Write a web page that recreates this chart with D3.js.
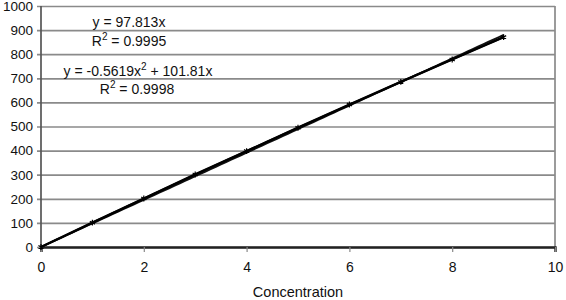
<!DOCTYPE html>
<html>
<head>
<meta charset="utf-8">
<script src="https://cdn.jsdelivr.net/npm/d3@7"></script>
<style>
  body { margin: 0; background: #fff; }
  text { font-family: "Liberation Sans", Arial, sans-serif; fill: #111; }
</style>
</head>
<body>
<div id="chart"></div>
<script>
// data
const concentration = [0, 1, 2, 3, 4, 5, 6, 7, 8, 9]
const signal        = [0, 101, 201, 301, 398, 495, 591, 685, 778, 871]
const xTicks        = [0, 2, 4, 6, 8, 10]
const yTicks        = [0, 100, 200, 300, 400, 500, 600, 700, 800, 900, 1000]
// trendline coefficients as printed on the chart  [a2, a1]
const linearFit     = [0, 97.813]
const polyFit       = [-0.5619, 101.81]
const xTitle        = 'Concentration'

const W = 566, H = 300,
      m = { top: 6, right: 11, bottom: 53, left: 41 },
      w = W - m.left - m.right,
      h = H - m.top - m.bottom

let svg = d3.select('#chart').append('svg')
  .attr('width', W).attr('height', H)

let g = svg.append('g').attr('transform', `translate(${m.left},${m.top})`)

let x = d3.scaleLinear().domain([0, 10]).range([0, w]),
    y = d3.scaleLinear().domain([0, 1000]).range([h, 0])

// gridlines + left ticks
g.append('g')
  .call(d3.axisLeft(y).tickValues(yTicks).tickSize(-w).tickPadding(8).tickFormat(d3.format('d')))
  .call(a => a.select('.domain').remove())
  .call(a => a.selectAll('.tick line')
    .attr('x1', -4).attr('stroke', '#8a8a8a').attr('stroke-width', 1.7))
  .call(a => a.selectAll('.tick text').style('font-size', '13.5px'))

// right border
g.append('line')
  .attr('x1', w).attr('x2', w).attr('y1', 0).attr('y2', h)
  .attr('stroke', '#8a8a8a').attr('stroke-width', 1.7)

// left axis line
g.append('line')
  .attr('x1', 0).attr('x2', 0).attr('y1', 0).attr('y2', h)
  .attr('stroke', '#555').attr('stroke-width', 1.7)

// x axis
g.append('g')
  .attr('transform', `translate(0,${h})`)
  .call(d3.axisBottom(x).tickValues(xTicks).tickSize(5).tickPadding(10))
  .call(a => a.select('.domain').attr('stroke', '#222').attr('stroke-width', 2.4))
  .call(a => a.selectAll('.tick line').attr('stroke', '#888').attr('stroke-width', 1.2))
  .call(a => a.selectAll('.tick text').style('font-size', '14px'))

svg.append('text')
  .attr('x', m.left + w / 2).attr('y', 297)
  .attr('text-anchor', 'middle')
  .style('font-size', '14.5px')
  .text(xTitle)

// trendlines
const fitLine = (c) => d3.line()
  .x(d => x(d)).y(d => y(c[0] * d * d + c[1] * d))

let xs = d3.range(0, 9.001, 0.1)
;[linearFit, polyFit].forEach(c => {
  g.append('path')
    .attr('d', fitLine(c)(xs))
    .attr('fill', 'none').attr('stroke', '#111').attr('stroke-width', 1.8)
})

// data series
g.append('path')
  .datum(concentration.map((c, i) => [c, signal[i]]))
  .attr('d', d3.line().x(d => x(d[0])).y(d => y(d[1])))
  .attr('fill', 'none').attr('stroke', '#000').attr('stroke-width', 2.4)

g.selectAll('.pt')
  .data(concentration.map((c, i) => [c, signal[i]]))
  .enter().append('path')
  .attr('class', 'pt')
  .attr('transform', d => `translate(${x(d[0])},${y(d[1])})`)
  .attr('d', d3.symbol(d3.symbolAsterisk, 24))
  .attr('fill', 'none').attr('stroke', '#000').attr('stroke-width', 1.2)

// equation labels
const label = (cx, cy, parts) => {
  let t = svg.append('text')
    .attr('x', cx).attr('y', cy)
    .attr('text-anchor', 'middle')
    .style('font-size', '14px')
  parts.forEach(p => {
    if (p.sup) t.append('tspan').attr('dy', -6).style('font-size', '10px').text(p.s)
    else t.append('tspan').attr('dy', p.after ? 6 : 0).text(p.s)
  })
}

label(129, 27, [{ s: 'y = 97.813x' }])
label(129, 46, [{ s: 'R' }, { s: '2', sup: true }, { s: ' = 0.9995', after: true }])
label(138, 76, [{ s: 'y = -0.5619x' }, { s: '2', sup: true }, { s: ' + 101.81x', after: true }])
label(137, 94, [{ s: 'R' }, { s: '2', sup: true }, { s: ' = 0.9998', after: true }])
</script>
</body>
</html>
